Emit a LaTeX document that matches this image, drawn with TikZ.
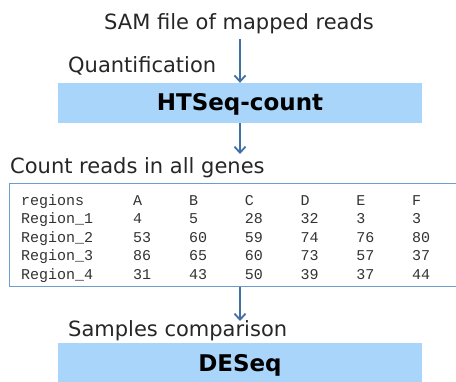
\documentclass[tikz,border=0pt]{standalone}
\usepackage{fontspec}
\setmainfont{DejaVu Sans}
\newfontfamily\tablemono{Liberation Mono}
\usetikzlibrary{arrows.meta}
\definecolor{boxfill}{HTML}{A9D5FB}
\definecolor{linkblue}{HTML}{3F6FA3}
\definecolor{frameblue}{HTML}{6F9CD0}
\begin{document}
\begin{tikzpicture}[x=1pt,y=-1pt,
  caption/.style={font=\fontsize{21}{24}\selectfont, text=black!85, inner sep=0pt},
  toolbox/.style={fill=boxfill, draw=none, minimum width=364pt, inner sep=0pt},
  toollabel/.style={font=\fontsize{23}{26}\selectfont\bfseries, inner sep=0pt},
  link/.style={draw=linkblue, line width=1.1pt, -{Straight Barb[length=6pt,width=11pt,line width=1.8pt]}},
  cell/.style={font=\tablemono\fontsize{15}{17}\selectfont, text=black!80, anchor=base west, inner sep=0pt}]
\useasboundingbox (0,0) rectangle (456,381);

% input file and quantification step
\node[caption] (sam) at (239,24) {SAM file of mapped reads};
\node[caption, anchor=west] (quant) at (68,66) {Quantification};
\node[toolbox, minimum height=40pt] (htseq) at (240,103) {};
\node[toollabel] (htseqlbl) at (240,104) {HTSeq-count};

% count table
\node[caption, anchor=west] (countlbl) at (10,168) {Count reads in all genes};
\node[draw=frameblue, line width=0.8pt, fill=white, minimum width=455pt, minimum height=103pt,
      anchor=north west, inner sep=0pt] (table) at (9,183) {};

\foreach \txt [count=\c] in {regions,A,B,C,D,E,F}
  \node[cell] at ({\c==1 ? 21 : 133+(\c-2)*55.8}, 205) {\txt};
\foreach \rname/\va/\vb/\vc/\vd/\ve/\vf [count=\r] in
  {Region\_1/4/5/28/32/3/3, Region\_2/53/60/59/74/76/80,
   Region\_3/86/65/60/73/57/37, Region\_4/31/43/50/39/37/44} {
  \pgfmathsetmacro\yy{205+\r*18.5}
  \node[cell] at (21,\yy) {\rname};
  \foreach \v [count=\k] in {\va,\vb,\vc,\vd,\ve,\vf}
    \node[cell] at ({133+(\k-1)*55.8},\yy) {\v};
}

% comparison step
\node[caption, anchor=west] (cmp) at (68,331) {Samples comparison};
\node[toolbox, minimum height=42pt, anchor=north] (deseq) at (240,343) {};
\node[toollabel] (deseqlbl) at (240,365) {DESeq};

% connectors
\coordinate (in1) at (240,39);
\coordinate (out2) at (240,154);
\coordinate (out3) at (240,321);
\draw[link] (in1) -- (htseq.north);
\draw[link] (htseq.south) -- (out2);
\draw[link] (table.south -| out3) -- (out3);
\end{tikzpicture}
\end{document}
